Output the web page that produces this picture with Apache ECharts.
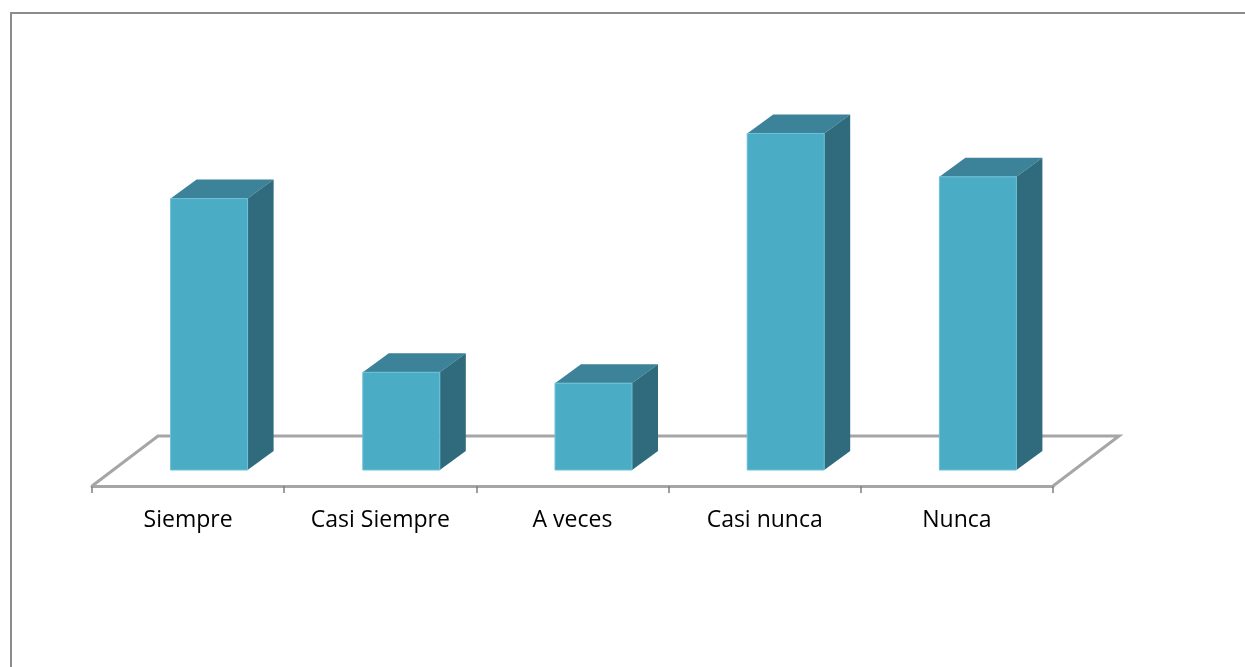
<!DOCTYPE html>
<html><head><meta charset="utf-8">
<style>html,body{margin:0;padding:0;background:#fff}#c{width:1245px;height:667px}</style>
<script src="https://cdn.jsdelivr.net/npm/echarts@6/dist/echarts.min.js"></script>
</head><body><div id="c"></div>
<script>
const categories = ['Siempre','Casi Siempre','A veces','Casi nunca','Nunca'];
const values = [25, 9, 8, 31, 27];

const DX = 26, DY = 19, FACE_W = 77, SHIFT_X = 21, SHIFT_Y = -16;
const FLOOR_DX = 66, FLOOR_DY = -50;
const FRONT = '#4bacc6', TOP = '#3c8299', SIDE = '#2f6b7d', EDGE = '#a6a6a6';

function renderFloor(params, api) {
  const cs = params.coordSys;
  const x0 = cs.x, x1 = cs.x + cs.width, y = cs.y + cs.height;
  return {
    type: 'polyline',
    silent: true,
    shape: { points: [[x0, y], [x0 + FLOOR_DX, y + FLOOR_DY], [x1 + FLOOR_DX, y + FLOOR_DY], [x1, y]] },
    style: { fill: 'none', stroke: EDGE, lineWidth: 3 }
  };
}

function renderBar(params, api) {
  const top = api.coord([api.value(0), api.value(1)]);
  const base = api.coord([api.value(0), 0]);
  const l = top[0] + SHIFT_X - FACE_W / 2, r = l + FACE_W;
  const t = top[1] + SHIFT_Y, b = base[1] + SHIFT_Y;
  return {
    type: 'group',
    children: [
      { type: 'polygon', shape: { points: [[l, t], [l + DX, t - DY], [r + DX, t - DY], [r, t]] }, style: { fill: TOP } },
      { type: 'polygon', shape: { points: [[r, t], [r + DX, t - DY], [r + DX, b - DY], [r, b]] }, style: { fill: SIDE } },
      { type: 'rect', shape: { x: l, y: t, width: FACE_W, height: b - t }, style: { fill: FRONT, stroke: '#6cc0d6', lineWidth: 1 } }
    ]
  };
}

const chart = echarts.init(document.getElementById('c'), null, { renderer: 'canvas' });
chart.setOption({
  animation: false,
  backgroundColor: '#fff',
  grid: { left: 92, right: 192, top: 106, bottom: 181 },
  graphic: [{
    type: 'polyline',
    silent: true,
    shape: { points: [[11, 667], [11, 13], [1245, 13]] },
    style: { fill: 'none', stroke: '#8c8c8c', lineWidth: 2 }
  }],
  xAxis: {
    type: 'category',
    data: categories,
    axisLine: { lineStyle: { color: EDGE, width: 3 } },
    axisTick: { show: true, alignWithLabel: false, length: 7, lineStyle: { color: '#808080', width: 1.5 } },
    axisLabel: { color: '#000', fontFamily: 'Open Sans', fontSize: 23, margin: 23 }
  },
  yAxis: { type: 'value', min: 0, max: 35, show: false, splitLine: { show: false } },
  series: [
    { type: 'custom', renderItem: renderFloor, data: [0], encode: { x: 0 }, z: 1, silent: true },
    { type: 'custom', renderItem: renderBar, data: values.map((v, i) => [i, v]), encode: { x: 0, y: 1 }, z: 2 }
  ]
});
</script></body></html>
